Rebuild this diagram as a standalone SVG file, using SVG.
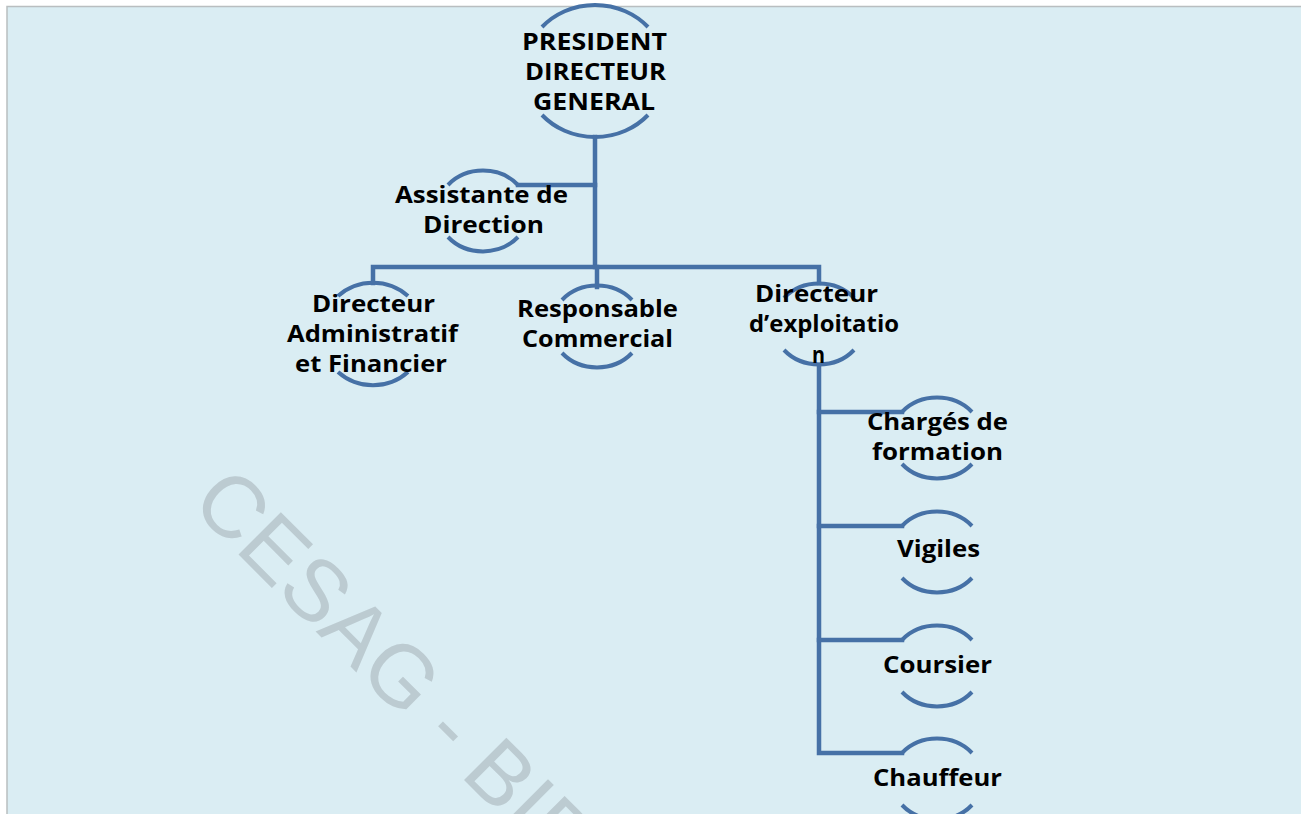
<svg xmlns="http://www.w3.org/2000/svg" width="1307" height="814" viewBox="0 0 1307 814">
  <style>
    .bg { fill: #DAEDF3; }
    .frame { fill: none; stroke: #B9BEC0; stroke-width: 1.5; }
    .arc { fill: none; stroke: #4671A6; stroke-width: 4; stroke-linecap: butt; }
    .conn { fill: none; stroke: #4671A6; stroke-width: 4.5; stroke-linejoin: miter; stroke-linecap: square; }
    .lbl { font-family: "Open Sans", "Liberation Sans", sans-serif; font-weight: 700; font-size: 23px; fill: #000; lengthAdjust: spacingAndGlyphs; }
    .wm { font-family: "Liberation Sans", Arial, sans-serif; font-size: 87px; fill: #BCCBD1; }
  </style>
  <rect x="0" y="0" width="1307" height="814" fill="#FFFFFF"/>
  <rect class="bg" x="7" y="6" width="1294" height="812"/>
  <path class="frame" d="M7,814 V6.5 H1301"/>

  <text class="wm" x="189" y="505" transform="rotate(45 189 505)">CESAG - BIB</text>

  <g id="connectors">
    <path class="conn" d="M595,137 V267"/>
    <path class="conn" d="M595,185 H518"/>
    <path class="conn" d="M373,283 V267 H819 V283"/>
    <path class="conn" d="M597,267 V287"/>
    <path class="conn" d="M819,365 V753 H902"/>
    <path class="conn" d="M819,412 H902"/>
    <path class="conn" d="M819,526 H902"/>
    <path class="conn" d="M819,640 H902"/>
  </g>

  <g id="node-pdg">
    <path class="arc" d="M542,27 A71,66 0 0 1 648,27"/>
    <path class="arc" d="M542,115 A71,66 0 0 0 648,115"/>
    <text class="lbl" x="522" y="50" textLength="145" lengthAdjust="spacingAndGlyphs">PRESIDENT</text>
    <text class="lbl" x="525" y="80" textLength="141" lengthAdjust="spacingAndGlyphs">DIRECTEUR</text>
    <text class="lbl" x="533" y="110" textLength="122" lengthAdjust="spacingAndGlyphs">GENERAL</text>
  </g>

  <g id="node-assistante">
    <path class="arc" d="M448,185 A46,41 0 0 1 518,185"/>
    <path class="arc" d="M448,237 A46,41 0 0 0 518,237"/>
    <text class="lbl" x="395" y="203" textLength="173" lengthAdjust="spacingAndGlyphs">Assistante de</text>
    <text class="lbl" x="423" y="233" textLength="121" lengthAdjust="spacingAndGlyphs">Direction</text>
  </g>

  <g id="node-daf">
    <path class="arc" d="M338,296 A52,51 0 0 1 408,296"/>
    <path class="arc" d="M338,372 A52,51 0 0 0 408,372"/>
    <text class="lbl" x="312" y="312" textLength="123" lengthAdjust="spacingAndGlyphs">Directeur</text>
    <text class="lbl" x="287" y="342" textLength="171" lengthAdjust="spacingAndGlyphs">Administratif</text>
    <text class="lbl" x="295" y="372" textLength="152" lengthAdjust="spacingAndGlyphs">et Financier</text>
  </g>

  <g id="node-commercial">
    <path class="arc" d="M562,300 A46,41 0 0 1 632,300"/>
    <path class="arc" d="M562,353 A46,41 0 0 0 632,353"/>
    <text class="lbl" x="517" y="317" textLength="161" lengthAdjust="spacingAndGlyphs">Responsable</text>
    <text class="lbl" x="522" y="347" textLength="151" lengthAdjust="spacingAndGlyphs">Commercial</text>
  </g>

  <g id="node-exploitation">
    <path class="arc" d="M784,298 A46,41 0 0 1 854,298"/>
    <path class="arc" d="M784,350 A46,41 0 0 0 854,350"/>
    <text class="lbl" x="755" y="302" textLength="123" lengthAdjust="spacingAndGlyphs">Directeur</text>
    <text class="lbl" x="749" y="332" textLength="150" lengthAdjust="spacingAndGlyphs">d’exploitatio</text>
    <text class="lbl" x="812" y="363" textLength="13" lengthAdjust="spacingAndGlyphs">n</text>
  </g>

  <g id="node-charges">
    <path class="arc" d="M902,412 A46,41 0 0 1 972,412"/>
    <path class="arc" d="M902,464 A46,41 0 0 0 972,464"/>
    <text class="lbl" x="867" y="430" textLength="141" lengthAdjust="spacingAndGlyphs">Chargés de</text>
    <text class="lbl" x="872" y="460" textLength="131" lengthAdjust="spacingAndGlyphs">formation</text>
  </g>

  <g id="node-vigiles">
    <path class="arc" d="M902,526 A46,41 0 0 1 972,526"/>
    <path class="arc" d="M902,578 A46,41 0 0 0 972,578"/>
    <text class="lbl" x="897" y="557" textLength="83" lengthAdjust="spacingAndGlyphs">Vigiles</text>
  </g>

  <g id="node-coursier">
    <path class="arc" d="M902,640 A46,41 0 0 1 972,640"/>
    <path class="arc" d="M902,692 A46,41 0 0 0 972,692"/>
    <text class="lbl" x="883" y="673" textLength="109" lengthAdjust="spacingAndGlyphs">Coursier</text>
  </g>

  <g id="node-chauffeur">
    <path class="arc" d="M902,753 A46,41 0 0 1 972,753"/>
    <path class="arc" d="M902,805 A46,41 0 0 0 972,805"/>
    <text class="lbl" x="873" y="786" textLength="129" lengthAdjust="spacingAndGlyphs">Chauffeur</text>
  </g>
</svg>
